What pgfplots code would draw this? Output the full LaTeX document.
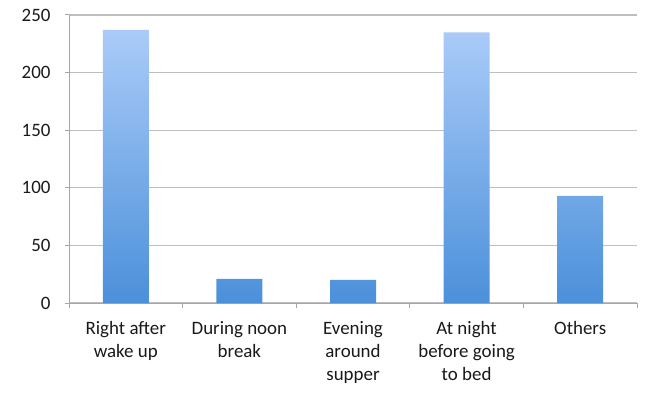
\documentclass[border=0pt]{standalone}
\usepackage{pgfplots}
\pgfplotsset{compat=1.18}
\usepackage{fontspec}
\setmainfont{Carlito}
\definecolor{bartop}{HTML}{AACBF8}
\definecolor{barbot}{HTML}{4B90DA}
\definecolor{gridgray}{HTML}{BEBEBE}
\definecolor{axisgray}{HTML}{A6A6A6}

\begin{document}
\begin{tikzpicture}
\begin{axis}[
	scale only axis,
	width=568bp, height=288bp,
	xmin=-0.5, xmax=4.5,
	ymin=0, ymax=250,
	axis lines*=left,
	axis line style={draw=axisgray, line width=1bp},
	ymajorgrids,
	grid style={draw=gridgray, line width=1.2bp},
	ytick={0,50,...,250},
	xtick={0,...,4},
	xticklabels={{Right after\\wake up},{During noon\\break},{Evening\\around\\supper},{At night\\before going\\to bed},{Others}},
	minor xtick={-0.5,0.5,1.5,2.5,3.5,4.5},
	major x tick style={draw=none},
	tick style={draw=axisgray, line width=1bp},
	tick align=outside,
	major tick length=4bp,
	minor tick length=5bp,
	/pgf/number format/assume math mode=true,
	ticklabel style={font=\fontsize{19}{23}\selectfont, text=black!90},
	xticklabel style={align=center, yshift=-11bp},
	yticklabel style={xshift=-11bp},
	bar width=46bp,
]
\addplot[ybar, draw=none, top color=bartop, bottom color=barbot] coordinates {
	(0, 237) (1, 21) (2, 20) (3, 235) (4, 93)
};
\end{axis}
\pgfresetboundingbox
\path[use as bounding box] (-69bp,-100bp) rectangle (588bp,303bp);
\end{tikzpicture}
\end{document}
